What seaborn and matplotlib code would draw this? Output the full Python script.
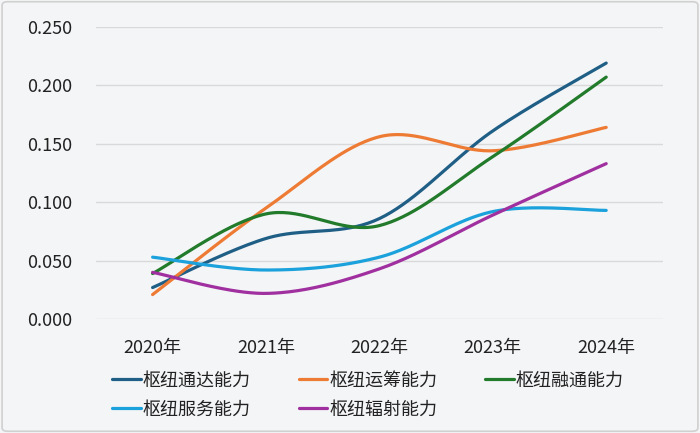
import numpy as np
import pandas as pd
import seaborn as sns
import matplotlib.pyplot as plt
from matplotlib.patches import FancyBboxPatch

years = ['2020年', '2021年', '2022年', '2023年', '2024年']
tongda = [0.027, 0.069, 0.086, 0.161, 0.219]
yunchou = [0.021, 0.095, 0.156, 0.144, 0.164]
rongtong = [0.039, 0.090, 0.080, 0.139, 0.207]
fuwu = [0.053, 0.042, 0.053, 0.092, 0.093]
fushe = [0.040, 0.022, 0.043, 0.089, 0.133]

series = {
    '枢纽通达能力': tongda,
    '枢纽运筹能力': yunchou,
    '枢纽融通能力': rongtong,
    '枢纽服务能力': fuwu,
    '枢纽辐射能力': fushe,
}
colors = ['#1F5F86', '#EE7B34', '#227B2B', '#1BA1DB', '#A0309F']


def smooth(xs, ys, n=40):
    # Excel-style smoothed line: Catmull-Rom control points as cubic Bezier
    p = np.column_stack([xs, ys]).astype(float)
    p = np.vstack([p[0], p, p[-1]])
    out = []
    t = np.linspace(0, 1, n)[:, None]
    for i in range(1, len(p) - 2):
        p0, p3 = p[i], p[i + 1]
        c1 = p0 + (p[i + 1] - p[i - 1]) / 6
        c2 = p3 - (p[i + 2] - p[i]) / 6
        seg = ((1 - t) ** 3) * p0 + 3 * ((1 - t) ** 2) * t * c1 \
            + 3 * (1 - t) * t ** 2 * c2 + t ** 3 * p3
        out.append(seg if i == 1 else seg[1:])
    return np.vstack(out)


rows = []
for name, vals in series.items():
    pts = smooth(np.arange(len(years)), vals)
    for k, (x, y) in enumerate(pts):
        rows.append({'x': x, 'y': y, 'name': name, 'order': k})
df = pd.DataFrame(rows)

sns.set_theme(style='white')
plt.rcParams['font.family'] = ['Noto Sans CJK SC', 'DejaVu Sans']

bg = '#F4F5F7'
fig = plt.figure(figsize=(7, 4.33), dpi=100, facecolor=bg)
fig.patches.append(FancyBboxPatch((0.003, 0.004), 0.994, 0.992,
                                  boxstyle='round,pad=0,rounding_size=0.008',
                                  transform=fig.transFigure, facecolor=bg,
                                  edgecolor='#D0D0D0', linewidth=1.2, zorder=-1))
ax = fig.add_axes([0.137, 0.263, 0.81, 0.675])
ax.set_facecolor('none')

sns.lineplot(data=df, x='x', y='y', hue='name', palette=colors,
             sort=False, estimator=None, linewidth=2.3, ax=ax, legend=True)

ax.set_xlim(-0.5, len(years) - 0.5)
ax.set_ylim(0, 0.25)
ax.set_xticks(range(len(years)))
ax.set_xticklabels(years)
ax.set_yticks(np.arange(0, 0.251, 0.05))
ax.set_yticklabels(['%.3f' % v for v in np.arange(0, 0.251, 0.05)])
ax.grid(axis='y', color='#D9D9D9', linewidth=1)
ax.set_axisbelow(True)
for s in ax.spines.values():
    s.set_visible(False)
ax.tick_params(axis='x', length=0, pad=14, labelsize=13, colors='#222222')
ax.tick_params(axis='y', length=0, pad=17, labelsize=13, colors='#222222')
ax.set(xlabel='', ylabel='')

# legend reads row by row: reorder for matplotlib's column filling
handles, labels = ax.get_legend_handles_labels()
ax.get_legend().remove()
order = [0, 3, 1, 4, 2]
fig.legend([handles[i] for i in order], [labels[i] for i in order],
           ncol=3, loc='upper left',
           bbox_to_anchor=(112 / 700, 0.142), frameon=False, fontsize=13,
           handlelength=1.6, handletextpad=0.1, columnspacing=2.65,
           labelspacing=0.6, borderpad=0, borderaxespad=0,
           labelcolor='#222222')

plt.savefig('out.png', dpi=100, facecolor=bg)
